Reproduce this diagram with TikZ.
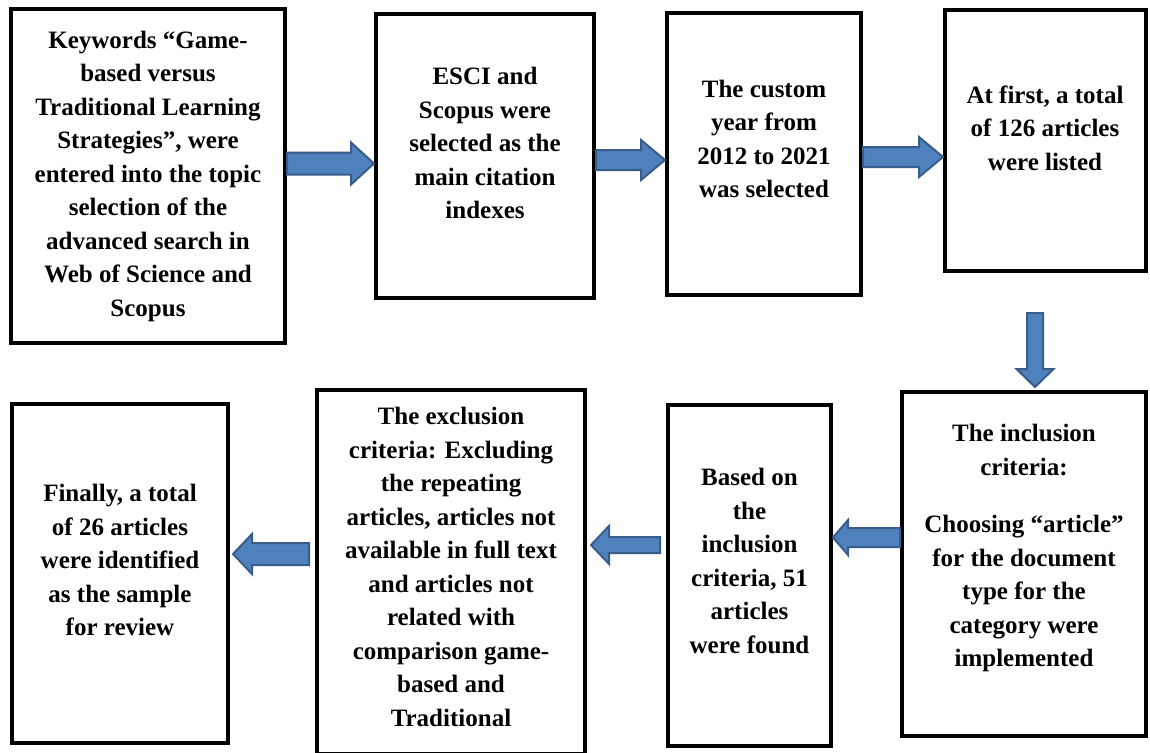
\documentclass[tikz,border=0pt]{standalone}
\usepackage{fontspec}
\setmainfont{Liberation Serif}[BoldFont={Liberation Serif Bold}]
\usetikzlibrary{calc}
\definecolor{arrowfill}{HTML}{4F81BD}
\definecolor{arrowline}{HTML}{385D8A}
\tikzset{
  box/.style={draw=black, line width=4pt, rectangle, inner sep=0pt},
  txt/.style={align=center, font=\rmfamily\bfseries\fontsize{25}{33.5}\selectfont, inner sep=0pt},
  barrow/.style={fill=arrowfill, draw=arrowline, line width=2pt, line join=miter},
}
% #1 start, #2 tip point, #3 y, #4 shaft half, #5 head half, #6 head length (signed)
\newcommand{\harr}[6]{%
  \draw[barrow] let \p1=(#1), \p2=(#2) in
    (\x1,{#3pt+#4pt}) -- ({\x2-(#6pt)},{#3pt+#4pt}) -- ({\x2-(#6pt)},{#3pt+#5pt})
    -- (\x2,#3pt) -- ({\x2-(#6pt)},{#3pt-#5pt}) -- ({\x2-(#6pt)},{#3pt-#4pt})
    -- (\x1,{#3pt-#4pt}) -- cycle;}
\begin{document}
\begin{tikzpicture}[x=1pt,y=1pt]
\useasboundingbox (0,0) rectangle (1150,-752);
\clip (0,0) rectangle (1150,-752);
\fill[white] (0,0) rectangle (1150,-752);

% boxes
\node[box, minimum width=274pt, minimum height=334pt] (b1) at (148,-176) {};
\node[box, minimum width=218pt, minimum height=284pt] (b2) at (485,-156) {};
\node[box, minimum width=194pt, minimum height=282pt] (b3) at (764,-154) {};
\node[box, minimum width=201pt, minimum height=261pt] (b4) at (1045.5,-140.5) {};
\node[box, minimum width=244pt, minimum height=344pt] (b5) at (1024,-564) {};
\node[box, minimum width=163pt, minimum height=341pt] (b6) at (749.5,-575.5) {};
\node[box, minimum width=268pt, minimum height=364pt] (b7) at (451,-572) {};
\node[box, minimum width=216pt, minimum height=339pt] (b8) at (120,-573.5) {};

% texts
\node[txt] (t1) at (148,-176) {Keywords “Game-\\based versus\\Traditional Learning\\Strategies”, were\\entered into the topic\\selection of the\\advanced search in\\Web of Science and\\Scopus};
\node[txt] (t2) at (485,-143) {ESCI and\\Scopus were\\selected as the\\main citation\\indexes};
\node[txt] (t3) at (764,-139) {The custom\\year from\\2012 to 2021\\was selected};
\node[txt] (t4) at (1045,-128) {At first, a total\\of 126 articles\\were listed};
\node[txt] (t5) at (1024,-548) {The inclusion\\criteria:\\[24pt]Choosing “article”\\for the document\\type for the\\category were\\implemented};
\node[txt] (t6) at (749.5,-561) {Based on\\the\\inclusion\\criteria, 51\\articles\\were found};
\node[txt] (t7) at (451,-567) {The exclusion\\criteria: Excluding\\the repeating\\articles, articles not\\available in full text\\and articles not\\related with\\comparison game-\\based and\\Traditional};
\node[txt] (t8) at (120,-560) {Finally, a total\\of 26 articles\\were identified\\as the sample\\for review};

% arrows
\harr{b1.east}{b2.west}{-163.5}{11}{21}{23}
\harr{b2.east}{b3.west}{-160}{10}{20}{24}
\harr{b3.east}{b4.west}{-157}{10}{20}{24}
\coordinate (d0) at (1035,-313);
\draw[barrow] let \p1=(d0), \p2=($(b5.north)+(0,3)$) in
  ({\x1-8pt},\y1) -- ({\x1-8pt},{\y2+18pt}) -- ({\x1-18.5pt},{\y2+18pt})
  -- (\x1,\y2) -- ({\x1+18.5pt},{\y2+18pt}) -- ({\x1+8pt},{\y2+18pt})
  -- ({\x1+8pt},\y1) -- cycle;
\harr{b5.west}{b6.east}{-537.5}{9.5}{17.5}{-15}
\harr{$(b6.west)+(-6,0)$}{$(b7.east)+(4,0)$}{-545}{8}{19}{-18}
\harr{$(b7.west)+(-6,0)$}{$(b8.east)+(3,0)$}{-554}{11}{20}{-19}
\end{tikzpicture}
\end{document}
